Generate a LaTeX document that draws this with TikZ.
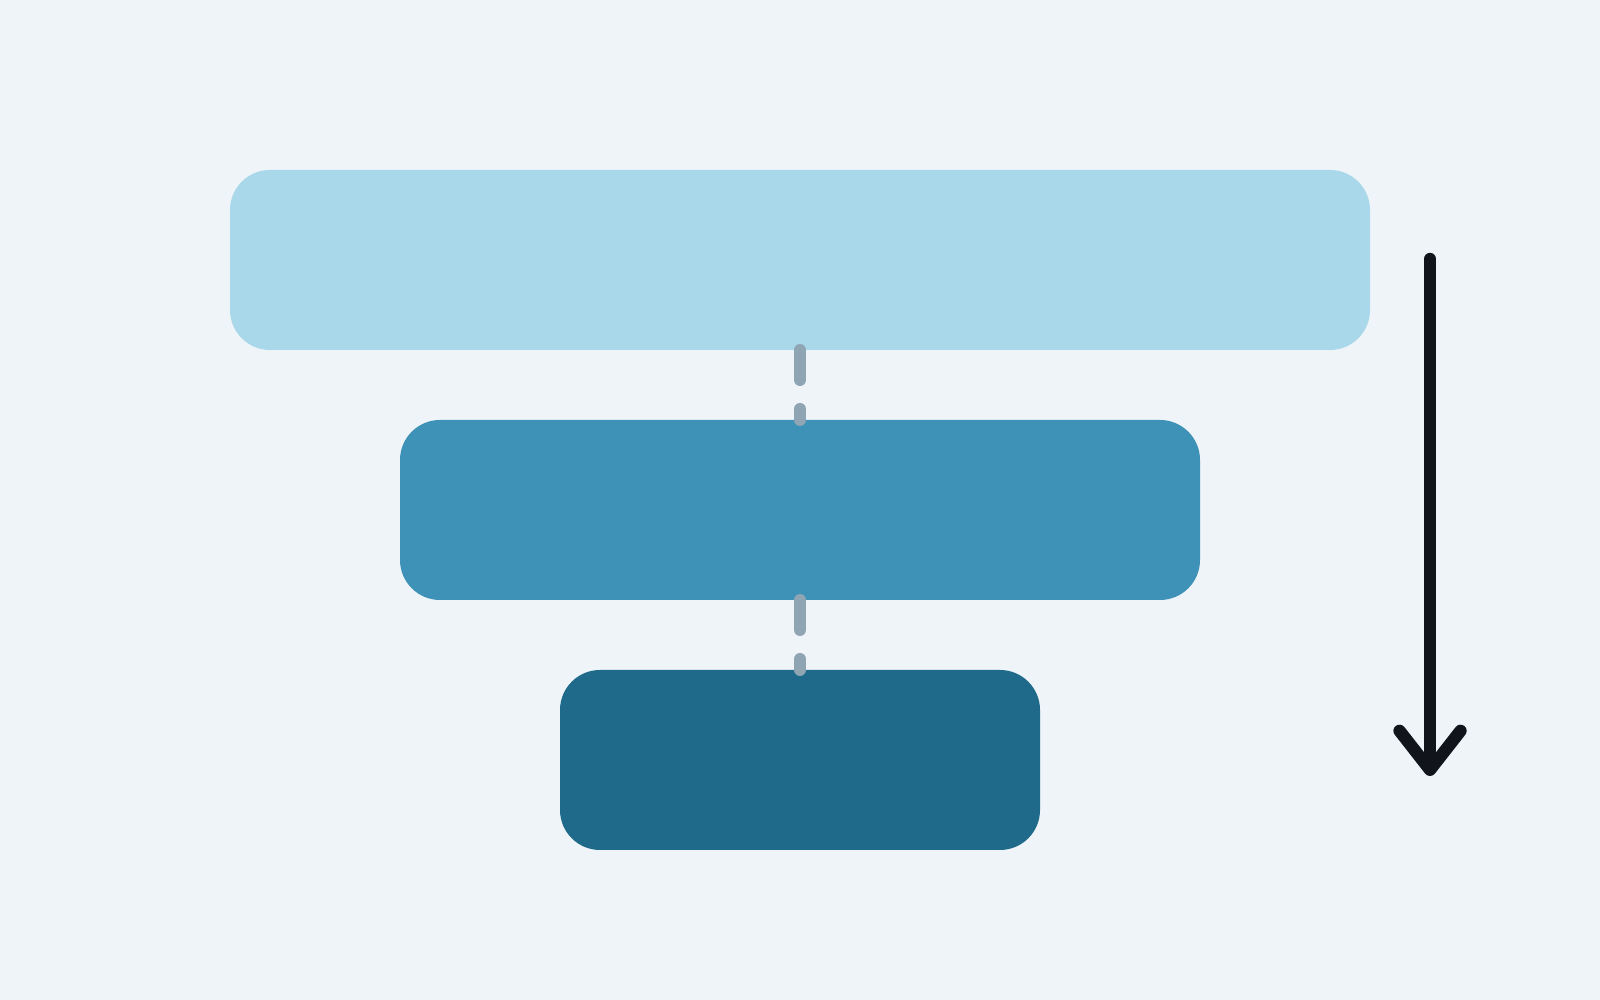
\documentclass[tikz,border=0pt]{standalone}
\usetikzlibrary{positioning,arrows.meta}

\definecolor{bgcol}{HTML}{EFF4F8}
\definecolor{tiertop}{HTML}{A8D8EA}
\definecolor{tiermid}{HTML}{3E91B7}
\definecolor{tierlow}{HTML}{1F698B}
\definecolor{linkcol}{HTML}{8FA5B3}
\definecolor{flowcol}{HTML}{11141A}

\tikzset{
  tier/.style={rectangle, rounded corners=0.4cm, minimum height=1.8cm, inner sep=0pt, outer sep=0pt},
  link/.style={draw=linkcol, line width=0.12cm, line cap=round, dash pattern=on 0.3cm off 0.29cm},
}

\begin{document}
\begin{tikzpicture}
  % background and fixed page size
  \fill[bgcol] (0,0) rectangle (16,10);
  \useasboundingbox (0,0) rectangle (16,10);

  % the three stacked tiers
  \node[tier, fill=tiertop, minimum width=11.4cm] (tier1) at (8,7.4) {};
  \node[tier, fill=tiermid, minimum width=8cm, below=0.7cm of tier1] (tier2) {};
  \node[tier, fill=tierlow, minimum width=4.8cm, below=0.7cm of tier2] (tier3) {};

  % dashed links between tiers
  \draw[link] (tier1.south) -- (tier2.north);
  \draw[link] (tier2.south) -- (tier3.north);

  % downward flow arrow
  \coordinate (flow_start) at (14.3,7.41);
  \coordinate (flow_end) at (14.3,2.24);
  \draw[flowcol, line width=3.5pt, line cap=round,
        -{Straight Barb[length=3.9mm, width=6.1mm, line cap=round, line join=round]}]
        (flow_start) -- (flow_end);
\end{tikzpicture}
\end{document}
